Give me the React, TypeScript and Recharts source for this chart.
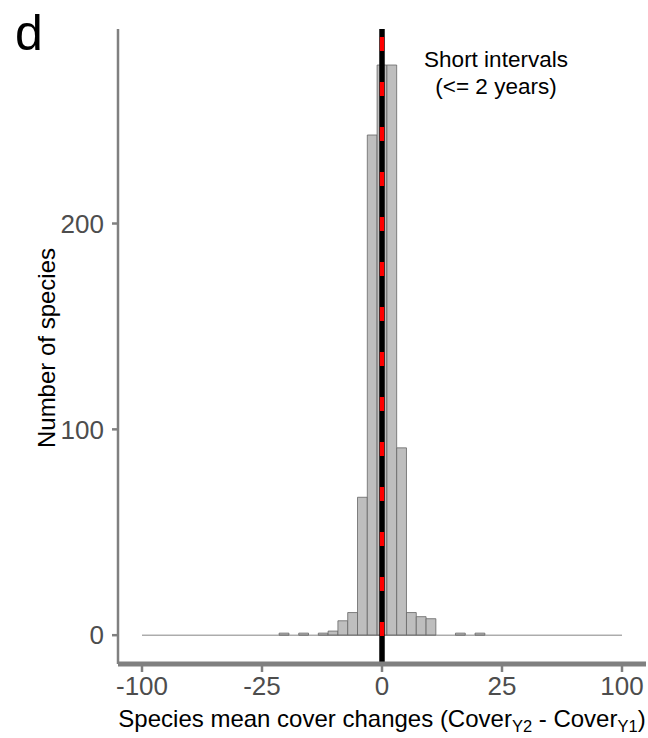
import { Bar, BarChart, Customized, ReferenceLine, XAxis, YAxis } from "recharts";

// histogram of species mean cover change, binned on a signed-sqrt x scale
const X_RANGE = [-100, 100];
const X_TICKS = [-100, -25, 0, 25, 100];
const Y_TICKS = [0, 100, 200];
// 49 bins from -100 to 100 (sqrt space), left to right
const BIN_COUNTS = [
  0, 0, 0, 0, 0, 0, 0, 0, 0, 0, 0, 0, 0, 0,
  1, 0, 1, 0, 1, 2, 7, 11, 67, 243, 277, 277, 91, 11, 9, 8, 0, 0, 1, 0, 1,
  0, 0, 0, 0, 0, 0, 0, 0, 0, 0, 0, 0, 0, 0,
];
const NOTE_LINES = ["Short intervals", "(<= 2 years)"];

const ssqrt = (v: number) => Math.sign(v) * Math.sqrt(Math.abs(v));
const unsqrt = (t: number) => Math.sign(t) * t * t;

const T_MIN = ssqrt(X_RANGE[0]);
const T_MAX = ssqrt(X_RANGE[1]);
const BIN_W = (T_MAX - T_MIN) / BIN_COUNTS.length;
const bins = BIN_COUNTS.map((count, i) => ({ t: T_MIN + BIN_W * (i + 0.5), count }));
const X_PAD = (T_MAX - T_MIN) * 0.05;
const X_DOMAIN: [number, number] = [T_MIN - X_PAD, T_MAX + X_PAD];
const Y_DOMAIN: [number, number] = [-14, 294.5];

const W = 648;
const H = 738;
const MARGIN = { top: 29, right: 2, bottom: 0, left: 0 };
const Y_AXIS_W = 118;
const X_AXIS_H = H - 664 - MARGIN.bottom;
const PLOT_W = W - MARGIN.left - MARGIN.right - Y_AXIS_W;
const BAR_PX = (PLOT_W * BIN_W) / (X_DOMAIN[1] - X_DOMAIN[0]) - 0.01;

const FONT = "'Liberation Sans', Arial, sans-serif";
const AXIS_GREY = "#808080";
const TICK_FONT = { fontSize: 26, fill: "#4d4d4d", fontFamily: FONT };

function Annotations() {
  return (
    <g fontFamily={FONT}>
      <text x={15} y={50} fontSize={50} fill="#000">d</text>
      {NOTE_LINES.map((line, i) => (
        <text key={line} x={496} y={67 + i * 27} fontSize={22.5} textAnchor="middle" fill="#000">
          {line}
        </text>
      ))}
      <text x={55} y={348} fontSize={24} textAnchor="middle" transform="rotate(-90 55 348)" fill="#000">
        Number of species
      </text>
      <text x={382} y={727} fontSize={24} textAnchor="middle" fill="#000">
        Species mean cover changes (Cover
        <tspan dy={5} fontSize={16.5}>Y2</tspan>
        <tspan dy={-5}> - Cover</tspan>
        <tspan dy={5} fontSize={16.5}>Y1</tspan>
        <tspan dy={-5}>)</tspan>
      </text>
    </g>
  );
}

export default function App() {
  return (
    <div style={{ position: "absolute", left: 0, top: 0, width: W, height: H, background: "#fff" }}>
      <BarChart width={W} height={H} data={bins} margin={MARGIN} barCategoryGap={0} barGap={0}>
        <XAxis
          dataKey="t"
          type="number"
          domain={X_DOMAIN}
          allowDataOverflow
          ticks={X_TICKS.map(ssqrt)}
          interval={0}
          tickFormatter={(v: number) => String(Math.round(unsqrt(v)))}
          height={X_AXIS_H}
          axisLine={{ stroke: AXIS_GREY, strokeWidth: 5 }}
          tickLine={{ stroke: AXIS_GREY, strokeWidth: 2.5 }}
          tickSize={8}
          tickMargin={5}
          tick={TICK_FONT}
        />
        <YAxis
          type="number"
          domain={Y_DOMAIN}
          allowDataOverflow
          ticks={Y_TICKS}
          interval={0}
          width={Y_AXIS_W}
          axisLine={{ stroke: AXIS_GREY, strokeWidth: 2.5 }}
          tickLine={{ stroke: AXIS_GREY, strokeWidth: 2.5 }}
          tickSize={6}
          tickMargin={8}
          tick={TICK_FONT}
        />
        <Bar
          dataKey="count"
          fill="#bebebe"
          stroke="#666666"
          strokeWidth={0.8}
          barSize={BAR_PX}
          isAnimationActive={false}
        />
        <ReferenceLine
          segment={[{ x: T_MIN, y: 0 }, { x: T_MAX, y: 0 }]}
          stroke="#666666"
          strokeWidth={0.8}
          ifOverflow="visible"
        />
        <ReferenceLine
          segment={[{ x: 0, y: Y_DOMAIN[1] }, { x: 0, y: Y_DOMAIN[0] }]}
          stroke="#000000"
          strokeWidth={5.5}
          ifOverflow="visible"
        />
        <ReferenceLine
          segment={[{ x: 0, y: Y_DOMAIN[1] }, { x: 0, y: Y_DOMAIN[0] }]}
          stroke="#ff0000"
          strokeWidth={4.3}
          strokeDasharray="14 31"
          strokeDashoffset={37}
          ifOverflow="visible"
        />
        <Customized component={Annotations} />
      </BarChart>
    </div>
  );
}
